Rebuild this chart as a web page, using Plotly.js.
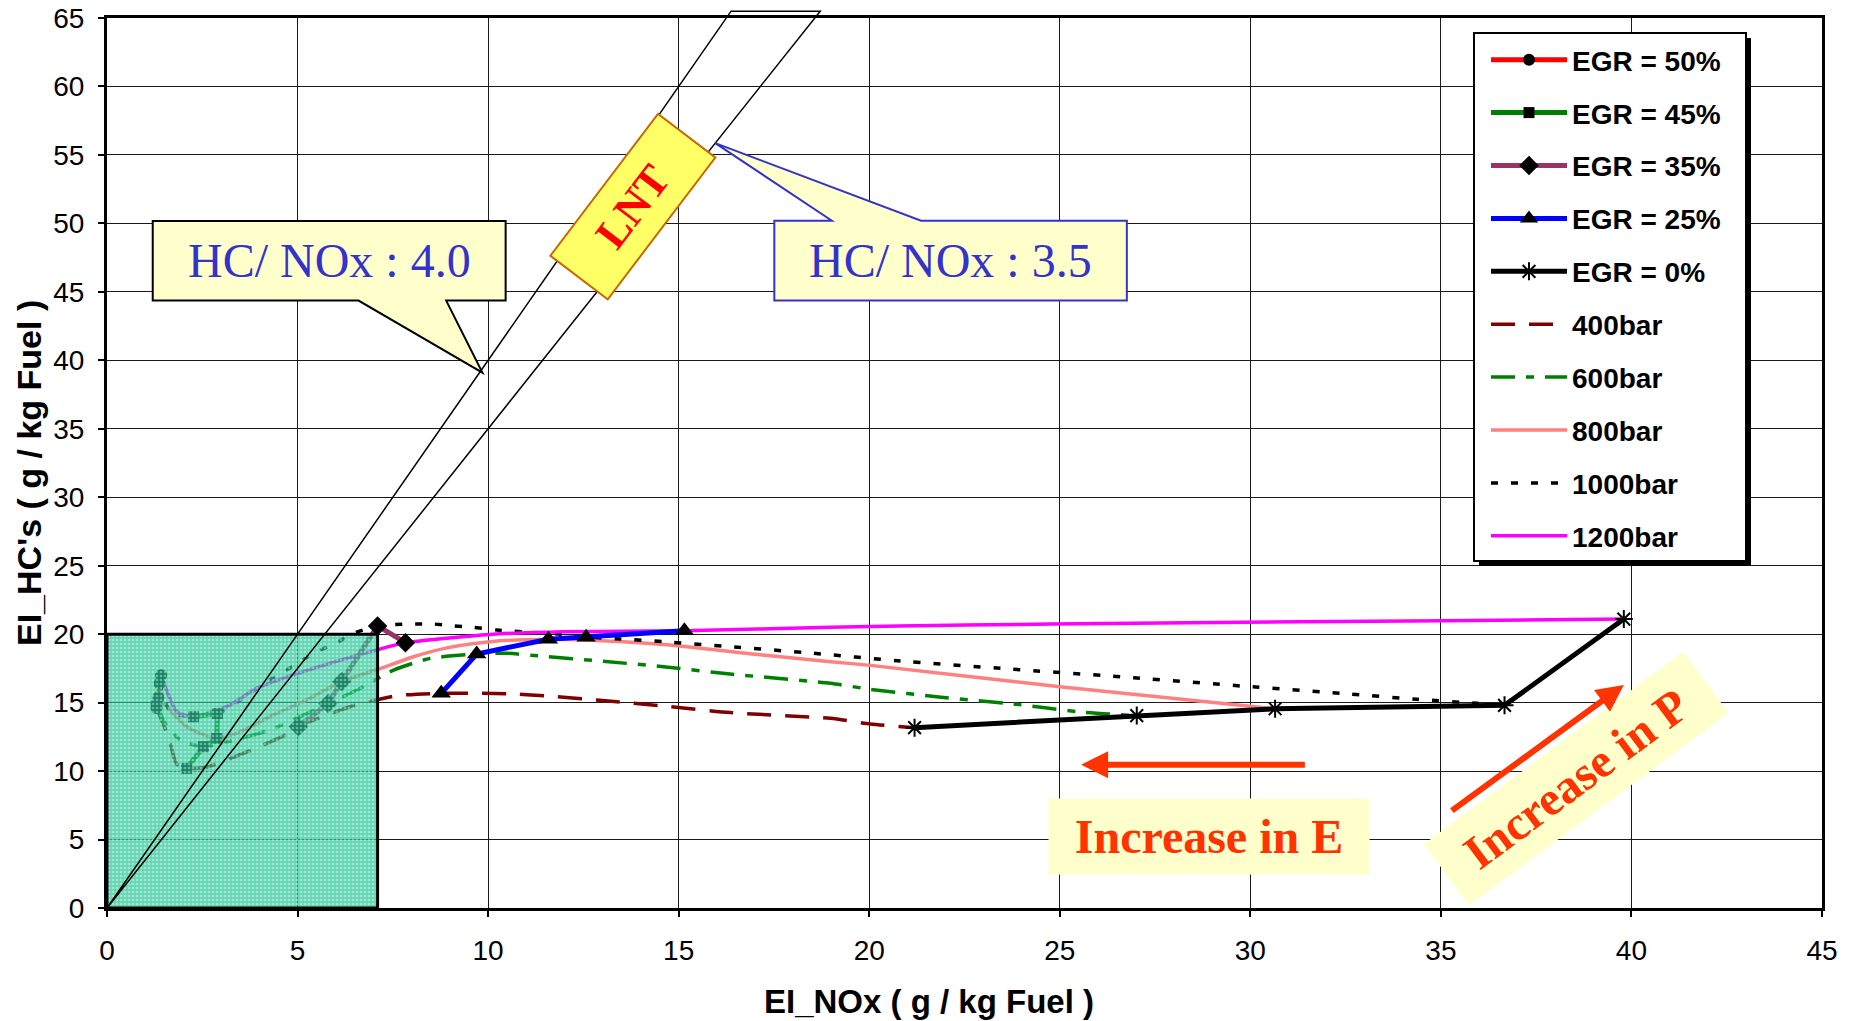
<!DOCTYPE html>
<html>
<head>
<meta charset="utf-8">
<script src="https://cdn.plot.ly/plotly-3.0.1.min.js"></script>
<style>
  html, body { margin: 0; padding: 0; background: #fff; }
  #chart { width: 1856px; height: 1021px; }
</style>
</head>
<body>
<div id="chart"></div>
<script>
// ---------- axis ranges / ticks ----------
const xRange = [0, 45];
const yRange = [0, 65];
const tickStep = 5;

// ---------- EGR series (markers at 400,600,800,1000,1200 bar) ----------
const egrNames = ['EGR = 50%', 'EGR = 45%', 'EGR = 35%', 'EGR = 25%', 'EGR = 0%'];
const egr50X = [1.30, 1.30, 1.35, 1.38, 1.42];
const egr50Y = [14.6, 14.9, 15.4, 16.4, 17.0];
const egr45X = [2.09, 2.53, 2.88, 2.90, 2.27];
const egr45Y = [10.2, 11.78, 12.39, 14.2, 13.97];
const egr35X = [5.02, 5.80, 6.16, 7.10, 7.83];
const egr35Y = [13.24, 14.94, 16.55, 20.6, 19.38];
const egr25X = [8.77, 9.70, 11.58, 12.57, 15.15];
const egr25Y = [15.68, 18.55, 19.63, 19.78, 20.25];
const egr0X  = [21.19, 27.02, 30.65, 36.67, 39.8];
const egr0Y  = [13.17, 14.05, 14.55, 14.8, 21.1];

// ---------- injection pressure series ----------
const pressureNames = ['400bar', '600bar', '800bar', '1000bar', '1200bar'];
const p400X = [1.30, 1.61, 1.83, 2.09, 2.62, 3.67, 4.8, 5.02, 6.38, 7.6, 8.77, 10.49, 11.54, 12.85, 14.6, 16.35, 18.98, 20.03, 21.19];
const p400Y = [14.6, 12.5, 10.5, 10.2, 10.3, 11.4, 12.8, 13.24, 14.7, 15.5, 15.68, 15.65, 15.48, 15.19, 14.75, 14.27, 13.85, 13.44, 13.17];
const p600X = [1.30, 1.52, 1.92, 2.53, 3.18, 4.28, 5.24, 5.80, 6.55, 7.52, 8.48, 9.70, 10.49, 11.54, 12.85, 14.6, 16.35, 18.98, 20.03, 21.95, 23.79, 25.45, 27.02];
const p600Y = [14.9, 13.5, 12.26, 11.78, 12.15, 13.0, 14.2, 14.94, 15.9, 17.38, 18.23, 18.55, 18.6, 18.36, 18.06, 17.62, 17.09, 16.41, 15.97, 15.38, 14.9, 14.34, 14.05];
const p800X = [1.35, 2.09, 2.88, 3.49, 4.37, 5.24, 6.16, 7.08, 8.04, 8.92, 10.05, 11.58, 12.41, 14.6, 17.2, 18.98, 20.03, 25.0, 30.65];
const p800Y = [15.4, 13.24, 12.39, 12.87, 14.1, 15.2, 16.55, 17.4, 18.35, 19.0, 19.45, 19.63, 19.6, 19.25, 18.48, 17.99, 17.72, 16.16, 14.55];
const p1000X = [1.38, 1.7, 2.90, 3.97, 4.41, 4.93, 5.41, 5.98, 6.51, 7.10, 7.95, 8.56, 9.09, 9.61, 10.23, 11.98, 12.57, 13.46, 14.6, 16.35, 18.54, 20.73, 23.61, 26.94, 29.82, 32.62, 34.37, 35.95, 36.67];
const p1000Y = [16.4, 14.2, 14.2, 16.1, 16.9, 17.74, 18.6, 19.3, 20.1, 20.6, 20.74, 20.74, 20.6, 20.5, 20.3, 19.98, 19.8, 19.65, 19.45, 19.09, 18.6, 18.06, 17.47, 16.82, 16.2, 15.63, 15.24, 14.95, 14.8];
const p1200X = [1.42, 1.48, 1.83, 2.27, 3.14, 3.93, 5.15, 7.08, 7.83, 10.05, 11.98, 15.15, 18.98, 22.56, 26.94, 31.3, 35.07, 39.8];
const p1200Y = [17.0, 16.5, 14.34, 13.97, 14.7, 16.04, 17.26, 18.85, 19.38, 19.98, 20.18, 20.25, 20.5, 20.67, 20.79, 20.91, 20.98, 21.1];

// ---------- reference lines / target region ----------
const lntRatios = [4.0, 3.5];          // HC/NOx ratios of the two LNT lines
const lntTopHC = 65.5;                  // HC value where the LNT wedge ends
const targetNOx = 7.1;                  // shaded target region upper NOx
const targetHC = 20;                    // shaded target region upper HC

// ---------- texts ----------
const xTitle = '<b>EI_NOx ( g / kg Fuel )</b>';
const yTitle = "<b>EI_HC's ( g / kg Fuel )</b>";
const calloutTexts = ['HC/ NOx : 4.0', 'HC/ NOx : 3.5'];
const lntText = '<b>LNT</b>';
const incEText = '<b>Increase in E</b>';
const incPText = '<b>Increase in P</b>';

// ---------- traces ----------
const pressureStyles = [
  {color: '#800000', width: 3.5, dash: '24px,14px'},
  {color: '#008000', width: 3.5, dash: '24px,11px,8px,11px'},
  {color: '#ff8080', width: 3.5, dash: 'solid'},
  {color: '#000000', width: 3.5, dash: '7px,13px'},
  {color: '#ff00ff', width: 3.5, dash: 'solid'}
];
const pressureXs = [p400X, p600X, p800X, p1000X, p1200X];
const pressureYs = [p400Y, p600Y, p800Y, p1000Y, p1200Y];

const egrStyles = [
  {color: '#ff0000', symbol: 'circle', size: 12},
  {color: '#008000', symbol: 'square', size: 11},
  {color: '#993366', symbol: 'diamond', size: 15},
  {color: '#0000ff', symbol: 'triangle-up', size: 17},
  {color: '#000000', symbol: 'asterisk-open', size: 15}
];
const egrXs = [egr50X, egr45X, egr35X, egr25X, egr0X];
const egrYs = [egr50Y, egr45Y, egr35Y, egr25Y, egr0Y];

const traces = [];
pressureNames.forEach((n, i) => {
  traces.push({
    type: 'scatter', mode: 'lines', name: n,
    x: pressureXs[i], y: pressureYs[i],
    line: {color: pressureStyles[i].color, width: pressureStyles[i].width,
           dash: pressureStyles[i].dash, shape: 'spline', smoothing: 0.6},
    legendrank: 10 + i, legendgroup: 'p' + i, hoverinfo: 'x+y+name'
  });
});
egrNames.forEach((n, i) => {
  traces.push({
    type: 'scatter', mode: 'lines+markers', name: n,
    x: egrXs[i], y: egrYs[i],
    line: {color: egrStyles[i].color, width: 5},
    marker: {symbol: egrStyles[i].symbol, size: egrStyles[i].size, color: '#000',
             line: {color: '#000', width: egrStyles[i].symbol === 'asterisk-open' ? 2 : 0}},
    legendrank: i, legendgroup: 'e' + i, hoverinfo: 'x+y+name'
  });
});
// shaded target region (textured, drawn over the curves)
traces.push({
  type: 'scatter', mode: 'lines', name: 'target', showlegend: false, hoverinfo: 'skip',
  x: [0, targetNOx, targetNOx, 0, 0], y: [0, 0, targetHC, targetHC, 0],
  fill: 'toself', fillcolor: 'rgba(38,200,150,0.7)',
  fillpattern: {shape: '.', fgcolor: 'rgba(255,255,255,0.4)', bgcolor: 'rgba(30,196,146,0.68)',
                size: 4, solidity: 0.35},
  line: {color: '#000', width: 3}
});

// helpers converting data values to paper fractions (used only for the wedge, which crosses the frame)
const px = v => (v - xRange[0]) / (xRange[1] - xRange[0]);
const py = v => (v - yRange[0]) / (yRange[1] - yRange[0]);

// plot-frame pixel geometry
const M = {l: 107, r: 34, t: 18, b: 113};
const W = 1856, H = 1021;
const pw = W - M.l - M.r, ph = H - M.t - M.b;
const ppx = p => (p - M.l) / pw;         // pixel -> paper x
const ppy = p => (H - M.b - p) / ph;     // pixel -> paper y

const shapes = [
  // LNT wedge
  {type: 'path', xref: 'paper', yref: 'paper',
   path: `M ${px(0)},${py(0)} L ${px(lntTopHC / lntRatios[0])},${py(lntTopHC)} L ${px(lntTopHC / lntRatios[1])},${py(lntTopHC)} Z`,
   line: {color: '#000', width: 1.5}, fillcolor: 'rgba(0,0,0,0)', layer: 'above'},
  // callout 4.0
  {type: 'path', xref: 'x', yref: 'y',
   path: 'M 1.20,50.18 L 10.46,50.18 L 10.46,44.36 L 8.90,44.36 L 9.85,39.1 L 6.60,44.36 L 1.20,44.36 Z',
   fillcolor: '#ffffcc', line: {color: '#000', width: 2}, layer: 'above'},
  // callout 3.5
  {type: 'path', xref: 'x', yref: 'y',
   path: 'M 17.51,50.2 L 19.02,50.2 L 15.96,55.86 L 21.36,50.2 L 26.76,50.2 L 26.76,44.36 L 17.51,44.36 Z',
   fillcolor: '#ffffcc', line: {color: '#3333cc', width: 2}, layer: 'above'},
  // legend shadow and frame
  {type: 'rect', xref: 'paper', yref: 'paper', x0: ppx(1479), x1: ppx(1751), y0: ppy(566), y1: ppy(38),
   fillcolor: '#000', line: {width: 0}, layer: 'above'},
  {type: 'rect', xref: 'paper', yref: 'paper', x0: ppx(1474), x1: ppx(1746), y0: ppy(561), y1: ppy(33),
   fillcolor: '#fff', line: {color: '#000', width: 2}, layer: 'above'}
];

const serif = 'Liberation Serif, Times New Roman, serif';
const sans = 'Liberation Sans, Arial, sans-serif';
const annotations = [
  {xref: 'x', yref: 'y', x: 13.79, y: 51.2, text: lntText, showarrow: false, textangle: -52.8,
   font: {family: serif, size: 44, color: '#ff0000'}, bgcolor: '#ffff66', bordercolor: '#cc6600',
   borderwidth: 2, borderpad: 0, width: 176, height: 70, xanchor: 'center', yanchor: 'middle'},
  {xref: 'x', yref: 'y', x: 5.83, y: 47.27, text: calloutTexts[0], showarrow: false,
   font: {family: serif, size: 48, color: '#3333cc'}, xanchor: 'center', yanchor: 'middle'},
  {xref: 'x', yref: 'y', x: 22.14, y: 47.27, text: calloutTexts[1], showarrow: false,
   font: {family: serif, size: 48, color: '#3333cc'}, xanchor: 'center', yanchor: 'middle'},
  {xref: 'x', yref: 'y', x: 28.91, y: 5.24, text: incEText, showarrow: false,
   font: {family: serif, size: 48, color: '#ff3300'}, bgcolor: '#ffffcc', borderpad: 0,
   width: 320, height: 75, xanchor: 'center', yanchor: 'middle'},
  {xref: 'x', yref: 'y', x: 38.55, y: 9.47, text: incPText, showarrow: false, textangle: -36.6,
   font: {family: serif, size: 48, color: '#ff3300'}, bgcolor: '#ffffcc', borderpad: 0,
   width: 322, height: 75, xanchor: 'center', yanchor: 'middle'},
  // arrows
  {xref: 'x', yref: 'y', axref: 'x', ayref: 'y', x: 25.56, y: 10.47, ax: 31.47, ay: 10.47,
   text: '', showarrow: true, arrowhead: 2, arrowsize: 0.9, arrowwidth: 6, arrowcolor: '#ff3300'},
  {xref: 'x', yref: 'y', axref: 'x', ayref: 'y', x: 39.8, y: 16.29, ax: 35.25, ay: 7.03,
   text: '', showarrow: true, arrowhead: 2, arrowsize: 0.9, arrowwidth: 6, arrowcolor: '#ff3300'},
  // axis titles
  {xref: 'paper', yref: 'paper', x: ppx(929), y: ppy(1001), text: xTitle, showarrow: false,
   font: {family: sans, size: 33, color: '#000'}, xanchor: 'center', yanchor: 'middle'},
  {xref: 'paper', yref: 'paper', x: ppx(29), y: ppy(473), text: yTitle, showarrow: false, textangle: -90,
   font: {family: sans, size: 34, color: '#000'}, xanchor: 'center', yanchor: 'middle'}
];

const axisCommon = {
  showline: true, linecolor: '#000', linewidth: 3, mirror: true,
  showgrid: true, gridcolor: '#1a1a1a', gridwidth: 1, zeroline: false,
  ticks: 'outside', ticklen: 6, tickwidth: 2, tickcolor: '#000',
  tickfont: {family: sans, size: 28, color: '#000'}, dtick: tickStep, tick0: 0
};

const layout = {
  width: W, height: H,
  margin: M,
  paper_bgcolor: '#fff', plot_bgcolor: '#fff',
  showlegend: true,
  xaxis: Object.assign({}, axisCommon, {range: xRange, ticklabelstandoff: 9}),
  yaxis: Object.assign({}, axisCommon, {range: yRange, ticklabelstandoff: 8}),
  legend: {x: ppx(1486), y: ppy(35), xanchor: 'left', yanchor: 'top',
    bgcolor: 'rgba(0,0,0,0)', borderwidth: 0,
    font: {family: sans, size: 28, color: '#000', weight: 'bold'},
    traceorder: 'grouped', tracegroupgap: 13.5, itemwidth: 76},
  shapes: shapes,
  annotations: annotations
};

Plotly.newPlot('chart', traces, layout, {displayModeBar: false, staticPlot: true});
</script>
</body>
</html>
